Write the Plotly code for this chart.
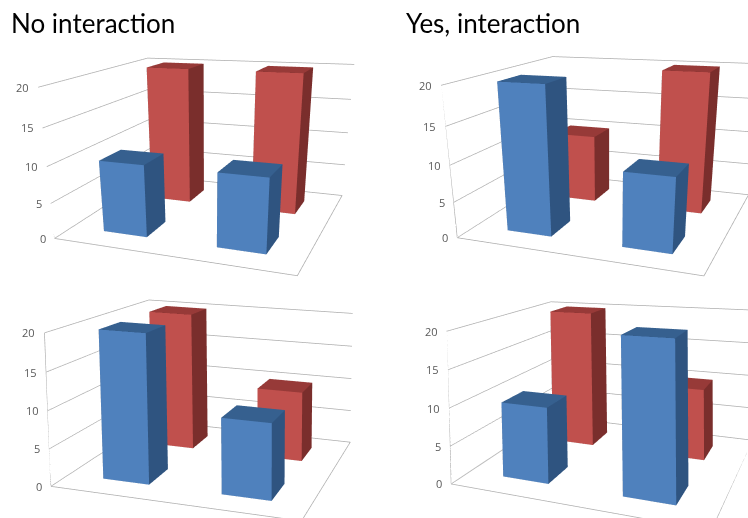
import plotly.graph_objects as go

titles = ["No interaction", "Yes, interaction"]
z_ticks = [0, 5, 10, 15, 20]

# Bar heights per panel, indexed by column (left, right)
blue_heights = [[10, 10], [20, 10], [20, 10], [10, 20]]
red_heights = [[20, 20], [10, 20], [20, 10], [20, 10]]

BLUE_FACES = {"front": "#4f81bd", "side": "#2f5480", "top": "#36608f"}
RED_FACES = {"front": "#c0504d", "side": "#7a2e2c", "top": "#973a38"}
GRID = "#adadad"
TICK_TEXT = "#595959"
BAR_SIZE = 0.397
X_RANGE = [-0.5, 1.5]
Y_RANGE = [-0.5, 1.5]

views = [
    dict(domain=[0, 360],
         eye=(1.488, -4.068, 1.091), center=(-0.089, -0.362, -0.714), up=(-0.245, 0.634, 1),
         aspect=(1.662, 1.566)),
    dict(domain=[432, 748],
         eye=(1.476, -4.063, 1.080), center=(-0.078, -0.301, -0.744), up=(-0.211, 0.551, 1),
         aspect=(1.678, 1.588)),
    dict(domain=[0, 748],
         eye=(1.925, -3.861, 1.459), center=(1.211, -0.467, 1.043), up=(0.116, -0.650, 1),
         aspect=(1.675, 1.158)),
    dict(domain=[432, 748],
         eye=(1.544, -4.034, 1.195), center=(-0.137, -0.055, 0.926), up=(0.262, -0.583, 1),
         aspect=(1.692, 1.493)),
]


def xyz(v):
    return dict(x=v[0], y=v[1], z=v[2])


def box(col, row, height, faces, scene):
    x0, x1 = col - BAR_SIZE / 2, col + BAR_SIZE / 2
    y0, y1 = row - BAR_SIZE / 2, row + BAR_SIZE / 2
    colors = [faces["front"]] * 2 + [faces["side"]] * 2 + [faces["top"]] * 2
    colors += [faces["side"]] * 6  # faces that never show from this viewpoint
    return go.Mesh3d(
        x=[x0, x1, x1, x0, x0, x1, x1, x0],
        y=[y0, y0, y1, y1, y0, y0, y1, y1],
        z=[0, 0, 0, 0, height, height, height, height],
        i=[0, 0, 1, 1, 4, 4, 0, 0, 3, 3, 0, 0],
        j=[1, 5, 2, 6, 5, 6, 1, 2, 2, 6, 3, 7],
        k=[5, 4, 6, 5, 6, 7, 2, 3, 6, 7, 7, 4],
        facecolor=colors, flatshading=True, showscale=False, hoverinfo="skip", scene=scene,
        lighting=dict(ambient=1, diffuse=0, specular=0, fresnel=0, roughness=1),
    )


def stroke(xs, ys, zs, scene):
    return go.Scatter3d(x=xs, y=ys, z=zs, mode="lines", line=dict(color=GRID, width=1.5),
                        hoverinfo="skip", showlegend=False, scene=scene)


def frame(scene):
    xa, xb = X_RANGE
    ya, yb = Y_RANGE
    # floor outline, then the value axis with its short tick marks
    yield stroke([xa, xb, xb, xa, xa], [ya, ya, yb, yb, ya], [0, 0, 0, 0, 0], scene)
    yield stroke([xa, xa], [ya, ya], [z_ticks[0], z_ticks[-1]], scene)
    for t in z_ticks:
        yield stroke([xa, xa - 0.03], [ya, ya], [t, t], scene)


fig = go.Figure()
PAGE_W = 748
for n, view in enumerate(views):
    scene = "scene" if n == 0 else f"scene{n + 1}"
    for col in range(2):
        fig.add_trace(box(col, 1, red_heights[n][col], RED_FACES, scene))
        fig.add_trace(box(col, 0, blue_heights[n][col], BLUE_FACES, scene))
    for line in frame(scene):
        fig.add_trace(line)
    hidden = dict(showgrid=False, showticklabels=False, showbackground=False, zeroline=False,
                  showline=False, ticks="", title="", showspikes=False)
    fig.update_layout({scene: dict(
        domain=dict(x=[view["domain"][0] / PAGE_W, view["domain"][1] / PAGE_W], y=[0, 1]),
        xaxis=dict(hidden, range=X_RANGE),
        yaxis=dict(hidden, range=Y_RANGE),
        zaxis=dict(hidden, range=[z_ticks[0], z_ticks[-1]], tickvals=z_ticks,
                   showgrid=True, gridcolor=GRID, gridwidth=1.5),
        aspectmode="manual",
        aspectratio=dict(x=view["aspect"][0], y=view["aspect"][1], z=1),
        camera=dict(eye=xyz(view["eye"]), center=xyz(view["center"]), up=xyz(view["up"])),
        bgcolor="rgba(0,0,0,0)",
        annotations=[dict(x=X_RANGE[0], y=Y_RANGE[0], z=t, text=str(t), showarrow=False,
                          xanchor="right", xshift=-7,
                          font=dict(size=11, family="Open Sans", color=TICK_TEXT))
                     for t in z_ticks],
    )})

fig.update_layout(
    width=748, height=518, margin=dict(l=0, r=0, t=0, b=0), showlegend=False,
    paper_bgcolor="white",
    annotations=[dict(text=t, xref="paper", yref="paper", x=x, y=1.0, yshift=-5, xanchor="left",
                      yanchor="top", showarrow=False,
                      font=dict(size=26, family="Lato", color="#000000"))
                 for t, x in zip(titles, [9 / 748, 404 / 748])],
)
fig.write_html("out.html")
